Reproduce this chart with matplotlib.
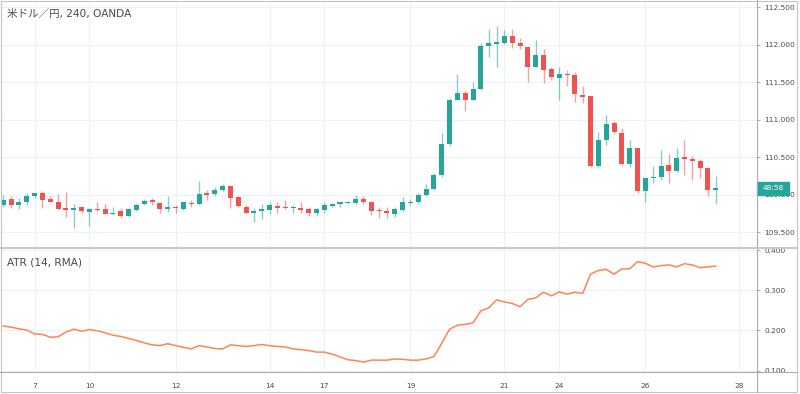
import numpy as np
import matplotlib
matplotlib.use("Agg")
import matplotlib.pyplot as plt
from matplotlib.patches import Rectangle
from matplotlib.transforms import blended_transform_factory

plt.rcParams["font.family"] = ["DejaVu Sans", "Noto Sans CJK JP"]

# USD/JPY 4h candles (OANDA)
opens = [109.86, 109.94, 109.87, 109.90, 109.99, 110.02, 109.94, 109.91, 109.82, 109.80,
         109.84, 109.77, 109.81, 109.81, 109.75, 109.78, 109.72, 109.80, 109.88, 109.93,
         109.89, 109.81, 109.84, 109.81, 109.89, 109.88, 110.02, 110.01, 110.06, 110.12,
         109.97, 109.84, 109.76, 109.79, 109.80, 109.85, 109.84, 109.82, 109.83, 109.81,
         109.76, 109.80, 109.85, 109.88, 109.89, 109.89, 109.95, 109.90, 109.80, 109.78,
         109.75, 109.80, 109.89, 109.90, 110.00, 110.08, 110.27, 110.68, 111.27, 111.36,
         111.27, 111.41, 111.99, 112.01, 112.03, 112.12, 112.02, 111.97, 111.71, 111.86,
         111.68, 111.56, 111.61, 111.60, 111.33, 111.32, 110.39, 110.73, 110.96, 110.83,
         110.41, 110.63, 110.05, 110.22, 110.24, 110.40, 110.32, 110.50, 110.48, 110.45,
         110.36, 110.07]
highs = [110.00, 109.98, 109.96, 110.02, 110.02, 110.05, 109.98, 110.01, 110.04, 109.88,
         109.85, 109.83, 109.91, 109.88, 109.84, 109.82, 109.82, 109.89, 109.95, 109.96,
         109.90, 109.99, 109.86, 109.91, 109.93, 110.18, 110.07, 110.11, 110.15, 110.12,
         109.99, 109.86, 109.82, 109.88, 109.90, 109.91, 109.93, 109.87, 109.91, 109.84,
         109.82, 109.90, 109.89, 109.91, 109.92, 110.00, 109.98, 109.91, 109.84, 109.84,
         109.84, 109.97, 109.94, 110.02, 110.14, 110.29, 110.82, 111.29, 111.61, 111.38,
         111.51, 112.03, 112.21, 112.25, 112.20, 112.21, 112.09, 111.97, 112.06, 111.95,
         111.71, 111.70, 111.66, 111.64, 111.45, 111.32, 110.84, 111.07, 110.98, 110.89,
         110.73, 110.63, 110.22, 110.38, 110.60, 110.55, 110.62, 110.73, 110.52, 110.48,
         110.36, 110.25]
lows = [109.84, 109.82, 109.81, 109.87, 109.96, 109.82, 109.90, 109.80, 109.70, 109.56,
        109.76, 109.58, 109.77, 109.74, 109.73, 109.69, 109.71, 109.79, 109.86, 109.86,
        109.76, 109.77, 109.76, 109.80, 109.84, 109.86, 109.93, 109.99, 110.05, 109.82,
        109.84, 109.76, 109.64, 109.68, 109.75, 109.76, 109.81, 109.76, 109.76, 109.72,
        109.72, 109.76, 109.84, 109.84, 109.88, 109.88, 109.88, 109.73, 109.69, 109.69,
        109.70, 109.78, 109.87, 109.88, 109.99, 110.06, 110.24, 110.65, 111.26, 111.12,
        111.26, 111.40, 111.84, 111.71, 112.01, 111.96, 111.94, 111.50, 111.71, 111.49,
        111.53, 111.27, 111.45, 111.24, 111.22, 110.37, 110.36, 110.67, 110.81, 110.40,
        110.37, 110.02, 109.91, 110.16, 110.20, 110.16, 110.31, 110.27, 110.20, 110.22,
        109.99, 109.88]
closes = [109.93, 109.87, 109.90, 109.99, 110.02, 109.93, 109.91, 109.81, 109.80, 109.83,
          109.78, 109.81, 109.80, 109.75, 109.76, 109.72, 109.81, 109.87, 109.92, 109.90,
          109.81, 109.84, 109.82, 109.90, 109.88, 110.01, 110.00, 110.07, 110.12, 109.96,
          109.85, 109.76, 109.79, 109.81, 109.86, 109.83, 109.82, 109.84, 109.80, 109.76,
          109.81, 109.86, 109.88, 109.90, 109.91, 109.95, 109.90, 109.79, 109.78, 109.76,
          109.81, 109.90, 109.91, 110.00, 110.08, 110.27, 110.68, 111.27, 111.36, 111.27,
          111.41, 111.99, 112.02, 112.04, 112.12, 112.02, 111.98, 111.71, 111.86, 111.67,
          111.57, 111.61, 111.60, 111.35, 111.31, 110.39, 110.73, 110.95, 110.84, 110.41,
          110.62, 110.05, 110.22, 110.24, 110.39, 110.32, 110.49, 110.48, 110.45, 110.36,
          110.07, 110.09]

# ATR (14, RMA)
atr = [0.211, 0.208, 0.204, 0.201, 0.191, 0.190, 0.183, 0.184, 0.196, 0.203,
       0.198, 0.202, 0.199, 0.194, 0.188, 0.185, 0.180, 0.175, 0.169, 0.164,
       0.162, 0.167, 0.162, 0.158, 0.154, 0.162, 0.159, 0.155, 0.154, 0.164,
       0.162, 0.160, 0.162, 0.165, 0.162, 0.160, 0.159, 0.154, 0.152, 0.150,
       0.146, 0.146, 0.141, 0.134, 0.127, 0.125, 0.121, 0.126, 0.126, 0.126,
       0.129, 0.128, 0.126, 0.126, 0.129, 0.135, 0.168, 0.203, 0.213, 0.215,
       0.219, 0.249, 0.256, 0.276, 0.271, 0.267, 0.259, 0.277, 0.281, 0.295,
       0.286, 0.296, 0.290, 0.295, 0.292, 0.340, 0.349, 0.352, 0.340, 0.353,
       0.353, 0.371, 0.367, 0.358, 0.361, 0.363, 0.358, 0.366, 0.363, 0.356,
       0.358, 0.360]

day_ticks = [4, 11, 22, 34, 41, 52, 64, 71, 82, 94]
day_labels = ["7", "10", "12", "14", "17", "19", "21", "24", "26", "28"]
price_ticks = [109.5, 110.0, 110.5, 111.0, 111.5, 112.0, 112.5]
atr_ticks = [0.1, 0.2, 0.3, 0.4]
countdown = "48:58"

UP = "#26a69a"
DOWN = "#ef5350"
GRID = "#eef1f6"
TXT = "#4a4a4a"
W, H = 800, 394


def px_rect(x0, y0, x1, y1):
    return [x0 / W, 1 - y1 / H, (x1 - x0) / W, (y1 - y0) / H]


fig = plt.figure(figsize=(8, 3.94), dpi=100)
ax = fig.add_axes(px_rect(2, 1, 757, 248))
ax2 = fig.add_axes(px_rect(2, 248, 757, 372), sharex=ax)

x = np.arange(len(opens))
o = np.array(opens)
c = np.array(closes)
up = c >= o
body_col = np.where(up, UP, DOWN)
wick_col = [(0.15, 0.65, 0.60, 0.55) if u else (0.94, 0.33, 0.31, 0.55) for u in up]

# candles
ax.vlines(x, lows, highs, colors=wick_col, lw=1.0, zorder=2)
body_h = np.maximum(np.abs(c - o), 0.012)
ax.bar(x, body_h, bottom=np.minimum(o, c), width=0.64, color=body_col, lw=0, zorder=3)

ax.set_xlim(-0.17, 96.26)
ax.set_ylim(109.292, 112.585)

# ATR pane
ax2.plot(x, atr, color="#ff8450", lw=1.1)
ax2.set_ylim(0.0965, 0.405)

for a in (ax, ax2):
    for s in a.spines.values():
        s.set_visible(False)
    a.set_xticks(day_ticks)
    a.grid(True, color=GRID, lw=0.8)
    a.set_axisbelow(True)
    a.yaxis.tick_right()
    a.tick_params(axis="y", length=2.5, width=0.6, color="#9a9ea8", pad=3,
                  labelsize=5.3, labelcolor=TXT)

ax.set_yticks(price_ticks)
ax.set_yticklabels(["%.3f" % p for p in price_ticks])
ax.tick_params(axis="x", length=0, labelbottom=False)

ax2.set_yticks(atr_ticks)
ax2.set_yticklabels(["%.3f" % v for v in atr_ticks])
ax2.set_xticklabels(day_labels)
ax2.tick_params(axis="x", length=0, pad=8, labelsize=5.3, labelcolor=TXT)

# keep the ATR scale labels inside their own pane
clip = Rectangle((757 / W, 1 - 372 / H), 40 / W, 124 / H, transform=fig.transFigure)
for lbl in ax2.get_yticklabels():
    lbl.set_clip_path(clip)

ax.text(0.007, 0.949, "米ドル／円, 240, OANDA", transform=ax.transAxes,
        fontsize=7.6, color=TXT, va="center", ha="left")
ax2.text(0.007, 0.883, "ATR (14, RMA)", transform=ax2.transAxes,
         fontsize=7.6, color=TXT, va="center", ha="left")

# countdown label on the last price
bt = blended_transform_factory(ax.transAxes, ax.transData)
ax.add_patch(Rectangle((1.0, closes[-1] - 0.087), 32 / 755, 0.174, transform=bt,
                       color=UP, clip_on=False, zorder=10))
ax.text(1.0 + 16 / 755, closes[-1], countdown, transform=bt, color="white",
        fontsize=5.3, ha="center", va="center", clip_on=False, zorder=11)

# frame lines
frame = fig.add_axes([0, 0, 1, 1])
frame.set_xlim(0, W)
frame.set_ylim(H, 0)
frame.axis("off")
frame.plot([0.5, 797, 797, 0.5, 0.5], [0.5, 0.5, 392, 392, 0.5], color="#c4c4c4", lw=0.8)
frame.plot([757, 757], [0, 392], color="#a8abb2", lw=0.8)
frame.plot([0, 797], [248, 248], color="#c8c8c8", lw=1.5)
frame.plot([0, 797], [372, 372], color="#a8abb2", lw=0.8)

fig.savefig("out.png", dpi=100)
